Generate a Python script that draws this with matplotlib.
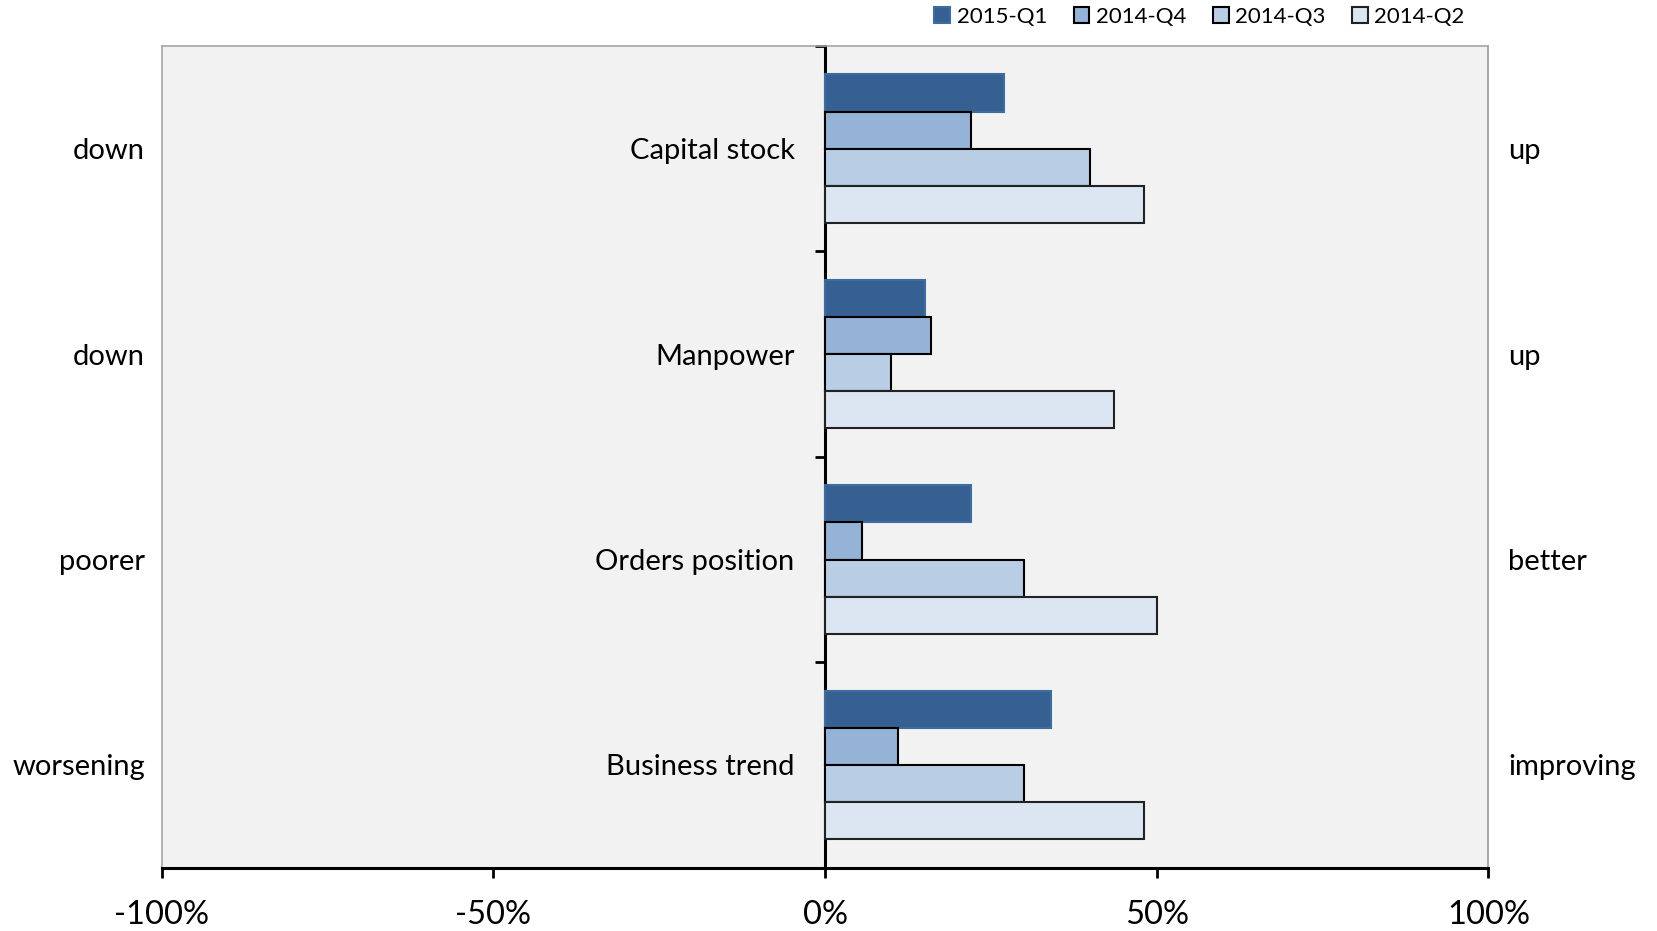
import numpy as np
import matplotlib.pyplot as plt
from matplotlib.patches import Patch
from matplotlib.ticker import FuncFormatter

plt.rcParams['font.family'] = ['Lato', 'DejaVu Sans']

# categories listed bottom -> top
categories = ['Business trend', 'Orders position', 'Manpower', 'Capital stock']
neg_labels = ['worsening', 'poorer', 'down', 'down']
pos_labels = ['improving', 'better', 'up', 'up']

q2015_1 = [34, 22, 15, 27]
q2014_4 = [11, 5.5, 16, 22]
q2014_3 = [30, 30, 10, 40]
q2014_2 = [48, 50, 43.5, 48]

series = [
    ('2015-Q1', q2015_1, '#366092', '#3f6ca0'),
    ('2014-Q4', q2014_4, '#95B3D7', 'black'),
    ('2014-Q3', q2014_3, '#B9CDE5', 'black'),
    ('2014-Q2', q2014_2, '#DCE6F2', '#222222'),
]

fig = plt.figure(figsize=(16.57, 9.31), dpi=100)
ax = fig.add_axes([0.0976, 0.068, 0.8007, 0.8826])
ax.set_facecolor('#F2F2F2')

y = np.arange(len(categories))
h = 0.181
handles = []
for i, (name, vals, color, edge) in enumerate(series):
    ax.barh(y + (1.5 - i) * h, vals, height=h, color=color,
            edgecolor=edge, linewidth=1.5, zorder=2)
    handles.append(Patch(facecolor=color, edgecolor=edge, linewidth=1.5, label=name))

ax.set_xlim(-100, 100)
ax.set_ylim(-0.5, 3.5)
ax.set_xticks([-100, -50, 0, 50, 100])
ax.xaxis.set_major_formatter(FuncFormatter(lambda v, _: f'{v:.0f}%'))
ax.tick_params(axis='x', direction='out', length=7, width=2, labelsize=23.5, pad=16)

ax.set_yticks(y)
ax.set_yticklabels(neg_labels)
ax.tick_params(axis='y', length=0, labelsize=21, pad=12)

for side in ['top', 'left', 'right']:
    ax.spines[side].set_color('#A6A6A6')
    ax.spines[side].set_linewidth(1.2)
ax.spines['bottom'].set_linewidth(2.2)

# zero axis with category separators and category names
mid = ax.secondary_yaxis(0.5)
mid.set_alignment('left')
mid.set_yticks([-0.5, 0.5, 1.5, 2.5, 3.5])
mid.set_yticklabels([''] * 5)
mid.set_yticks(y, labels=categories, minor=True)
mid.tick_params(which='major', direction='out', length=7, width=2)
mid.tick_params(which='minor', length=0, pad=22, labelsize=21)
mid.spines['left'].set_linewidth(2.2)

right = ax.secondary_yaxis('right')
right.set_yticks(y, labels=pos_labels)
right.tick_params(length=0, pad=14, labelsize=21)
right.spines['right'].set_color('#A6A6A6')
right.spines['right'].set_linewidth(1.2)

fig.legend(handles=handles, loc='center', bbox_to_anchor=(0.724, 0.982), ncol=4,
           frameon=False, fontsize=16, handlelength=0.7, handleheight=0.7,
           columnspacing=1.2, handletextpad=0.3)

fig.savefig('out.png', dpi=100)
